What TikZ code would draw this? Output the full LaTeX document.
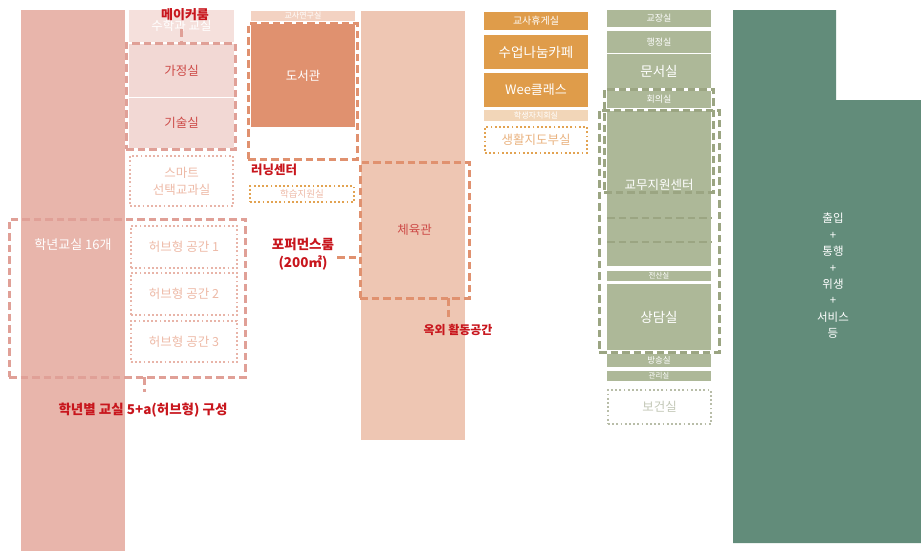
\documentclass[tikz,border=0pt]{standalone}
\usepackage{fontspec}
\setmainfont{Noto Sans CJK KR}
\definecolor{cA}{HTML}{E8B5AB}
\definecolor{cMath}{HTML}{F5E0DC}
\definecolor{cPk}{HTML}{F2D8D4}
\definecolor{cSal}{HTML}{E0A097}
\definecolor{cDot}{HTML}{E8B4A8}
\definecolor{cPeachTxt}{HTML}{EDB9A6}
\definecolor{cRoomTxt}{HTML}{CD4A47}
\definecolor{cRed}{HTML}{C8161D}
\definecolor{cStrip}{HTML}{F3D2C2}
\definecolor{cLib}{HTML}{E0916F}
\definecolor{cGym}{HTML}{EEC6B3}
\definecolor{cOr}{HTML}{DF9C4A}
\definecolor{cOrL}{HTML}{F2D6B8}
\definecolor{cOrDot}{HTML}{E2A352}
\definecolor{cOrTxt}{HTML}{E9B27F}
\definecolor{cSage}{HTML}{ADB898}
\definecolor{cSageD}{HTML}{9BA582}
\definecolor{cSageDot}{HTML}{B8BDA8}
\definecolor{cSageTxt}{HTML}{C2C7B6}
\definecolor{cDG}{HTML}{628C7A}
\tikzset{
  room/.style={anchor=north west, inner sep=0pt, outer sep=0pt, align=center, text=white, font=\fontsize{12.5}{14}\selectfont},
  dbox/.style={anchor=north west, inner sep=0pt, outer sep=0pt, line width=3pt, dash pattern=on 7.5pt off 4pt},
  dotbox/.style={anchor=north west, inner sep=0pt, outer sep=0pt, align=center, line width=2.4pt, dash pattern=on 1.8pt off 2.4pt},
  redlab/.style={text=cRed, font=\fontsize{13}{17}\selectfont\bfseries, align=center, inner sep=0pt},
  dline/.style={line width=3pt, dash pattern=on 7.5pt off 4pt},
}
\begin{document}
\begin{tikzpicture}[x=1pt,y=-1pt]
\useasboundingbox (0,0) rectangle (921,552);
% column 1
\node[room, fill=cA, minimum width=104pt, minimum height=541pt] (c1) at (21,10) {};
\node[text=white, font=\fontsize{13}{14}\selectfont, inner sep=0pt] (c1t) at (73,245) {학년교실 16개};
% column 2
\node[room, fill=cMath, minimum width=105pt, minimum height=32pt] (math) at (129,10) {수학과 교실};
\node[room, fill=cPk, text=cRoomTxt, minimum width=105pt, minimum height=53pt] (ga) at (129,44) {가정실};
\node[room, fill=cPk, text=cRoomTxt, minimum width=105pt, minimum height=50pt] (gi) at (129,98) {기술실};
\node[dbox, draw=cSal, minimum width=109pt, minimum height=106pt] (gbox) at (126,43) {};
\node[dotbox, draw=cDot, text=cPeachTxt, font=\fontsize{12.5}{17}\selectfont, minimum width=103pt, minimum height=50pt] (smart) at (130,156) {스마트\\선택교과실};
\node[dotbox, draw=cDot, text=cPeachTxt, font=\fontsize{12.5}{14}\selectfont, minimum width=106pt, minimum height=42pt] (hub1) at (131,226) {허브형 공간 1};
\node[dotbox, draw=cDot, text=cPeachTxt, font=\fontsize{12.5}{14}\selectfont, minimum width=106pt, minimum height=42pt] (hub2) at (131,273) {허브형 공간 2};
\node[dotbox, draw=cDot, text=cPeachTxt, font=\fontsize{12.5}{14}\selectfont, minimum width=106pt, minimum height=41pt] (hub3) at (131,321) {허브형 공간 3};
\node[dbox, draw=cSal, minimum width=236pt, minimum height=158pt] (bigbox) at (9,219) {};
\node[redlab] (maker) at (185,15) {메이커룸};
\coordinate (mk) at (181,29);
\draw[dline, draw=cSal] (mk) -- (mk |- gbox.north);
\coordinate (hb) at (144,392);
\draw[dline, draw=cSal] (hb |- bigbox.south) -- (hb);
\node[redlab, font=\fontsize{13.5}{17}\selectfont\bfseries] (hublab) at (143,410) {학년별 교실 5+a(허브형) 구성};
% column 3
\node[room, fill=cStrip, font=\fontsize{8}{9}\selectfont, minimum width=104pt, minimum height=10pt] (tr) at (251,11) {교사연구실};
\node[room, fill=cLib, minimum width=104pt, minimum height=103pt] (lib) at (251,24) {도서관};
\node[dbox, draw=cLib, minimum width=109pt, minimum height=136pt] (libbox) at (248,23) {};
\node[redlab, font=\fontsize{12.5}{17}\selectfont\bfseries] (learn) at (274,170) {러닝센터};
\node[dotbox, draw=cOrDot, text=cPeachTxt, font=\fontsize{9.5}{11}\selectfont, minimum width=104pt, minimum height=16pt] (study) at (250,186) {학습지원실};
% column 4
\node[room, fill=cGym, minimum width=104pt, minimum height=429pt] (gymcol) at (361,11) {};
\node[dbox, draw=cLib, text=cRoomTxt, font=\fontsize{12.5}{14}\selectfont, minimum width=109pt, minimum height=136pt] (gym) at (360,162) {체육관};
\node[redlab, font=\fontsize{13.5}{18}\selectfont\bfseries] (perf) at (303,254) {포퍼먼스룸\\(200㎡)};
\coordinate (pf) at (337,257);
\draw[dline, draw=cLib] (pf) -- (pf -| gym.west);
\coordinate (od) at (448,318);
\draw[dline, draw=cLib] (od |- gym.south) -- (od);
\node[redlab, font=\fontsize{12}{14}\selectfont\bfseries] (outdoor) at (458,330) {옥외 활동공간};
% column 5
\node[room, fill=cOr, font=\fontsize{10}{12}\selectfont, minimum width=104pt, minimum height=18pt] (rest) at (484,12) {교사휴게실};
\node[room, fill=cOr, font=\fontsize{13.5}{15}\selectfont, minimum width=104pt, minimum height=34pt] (cafe) at (484,35) {수업나눔카페};
\node[room, fill=cOr, font=\fontsize{13}{15}\selectfont, minimum width=104pt, minimum height=34pt] (wee) at (484,73) {Wee클래스};
\node[room, fill=cOrL, font=\fontsize{8}{9}\selectfont, minimum width=104pt, minimum height=11pt] (council) at (484,110) {학생자치회실};
\node[dotbox, draw=cOrDot, text=cOrTxt, font=\fontsize{12.5}{14}\selectfont, minimum width=102pt, minimum height=26pt] (guide) at (485,127) {생활지도부실};
% column 6
\node[room, fill=cSage, font=\fontsize{9}{10}\selectfont, minimum width=104pt, minimum height=17pt] (prin) at (607,10) {교장실};
\node[room, fill=cSage, font=\fontsize{9}{10}\selectfont, minimum width=104pt, minimum height=22pt] (admin) at (607,31) {행정실};
\node[room, fill=cSage, font=\fontsize{13.5}{15}\selectfont, minimum width=104pt, minimum height=34pt] (doc) at (607,54) {문서실};
\node[room, fill=cSage, font=\fontsize{9}{10}\selectfont, minimum width=104pt, minimum height=17pt] (meet) at (607,91) {회의실};
\node[room, fill=cSage, minimum width=104pt, minimum height=155pt] (sup) at (607,111) {};
\node[text=white, font=\fontsize{12.5}{14}\selectfont, inner sep=0pt] (supt) at (659,185) {교무지원센터};
\node[room, fill=cSage, font=\fontsize{7.5}{9}\selectfont, minimum width=104pt, minimum height=10pt] (it) at (607,271) {전산실};
\node[room, fill=cSage, font=\fontsize{13.5}{15}\selectfont, minimum width=104pt, minimum height=66pt] (couns) at (607,284) {상담실};
\node[room, fill=cSage, font=\fontsize{8.5}{10}\selectfont, minimum width=104pt, minimum height=13pt] (bc) at (607,354) {방송실};
\node[room, fill=cSage, font=\fontsize{7.5}{9}\selectfont, minimum width=104pt, minimum height=10pt] (mg) at (607,371) {관리실};
\node[dotbox, draw=cSageDot, text=cSageTxt, font=\fontsize{12.5}{14}\selectfont, minimum width=103pt, minimum height=34pt] (health) at (608,390) {보건실};
\node[dbox, draw=cSageD, minimum width=109pt, minimum height=103pt] (sbox1) at (604,89) {};
\node[dbox, draw=cSageD, minimum width=120pt, minimum height=242pt] (sbox2) at (599,110) {};
\coordinate (l1) at (607,218);
\coordinate (l2) at (607,242);
\draw[dline, draw=cSageD, line width=2.4pt] (l1) -- (l1 -| sup.east);
\draw[dline, draw=cSageD, line width=2.4pt] (l2) -- (l2 -| sup.east);
% column 7
\fill[cDG] (733,10) -- (836,10) -- (836,100) -- (921,100) -- (921,543) -- (733,543) -- cycle;
\node[text=white, font=\fontsize{11.5}{16.4}\selectfont, align=center, inner sep=0pt] (svc) at (833,276) {출입\\+\\통행\\+\\위생\\+\\서비스\\등};
\end{tikzpicture}
\end{document}
